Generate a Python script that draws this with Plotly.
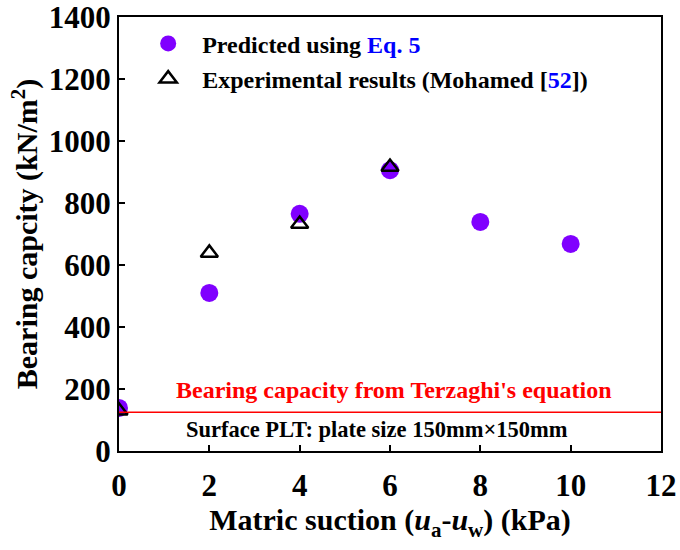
import plotly.graph_objects as go

# Matric suction (kPa)
suction_pred = [0, 2, 4, 6, 8, 10]
capacity_pred = [139, 510, 765, 906, 739, 668]

suction_exp = [0, 2, 4, 6]
capacity_exp = [130, 639, 732, 916]

# Terzaghi bearing capacity (kN/m2)
terzaghi = 125

x_ticks = [0, 2, 4, 6, 8, 10, 12]
y_ticks = [0, 200, 400, 600, 800, 1000, 1200, 1400]

FONT = "Liberation Serif, Times New Roman, serif"

fig = go.Figure()

fig.add_trace(go.Scatter(
    x=suction_pred, y=capacity_pred, mode="markers",
    name="Predicted using <span style='color:#0000ff'>Eq. 5</span>",
    legendgroup="a",
    marker=dict(symbol="circle", size=18, color="#8000ff", line=dict(width=0)),
))
fig.add_trace(go.Scatter(
    x=suction_exp, y=capacity_exp, mode="markers",
    name="Experimental results (Mohamed [<span style='color:#0000ff'>52</span>])",
    legendgroup="b",
    marker=dict(symbol="triangle-up-open", size=15, color="black",
                line=dict(width=2.5, color="black")),
))

fig.add_shape(type="line", xref="x", yref="y", x0=x_ticks[0], x1=x_ticks[-1],
              y0=terzaghi, y1=terzaghi, line=dict(color="red", width=1.5))

fig.add_annotation(x=0.507, xref="paper", y=197, yref="y",
                   xanchor="center", yanchor="middle",
                   text="Bearing capacity from Terzaghi's equation",
                   showarrow=False, font=dict(family=FONT, size=24, color="red", weight="bold"))
fig.add_annotation(x=0.476, xref="paper", y=68, yref="y",
                   text="Surface PLT: plate size 150mm×150mm",
                   showarrow=False, xanchor="center", yanchor="middle",
                   font=dict(family=FONT, size=22.5, color="black", weight="bold"))

axis_common = dict(
    showline=True, linecolor="black", linewidth=2, mirror=True,
    ticks="inside", ticklen=6, tickwidth=2, tickcolor="black",
    showgrid=False, zeroline=False, ticklabeloverflow="allow", automargin=False,
    tickfont=dict(family=FONT, size=31, color="black", weight="bold"),
)

fig.update_xaxes(range=[x_ticks[0], x_ticks[-1]], tickvals=x_ticks, **axis_common,
                 ticklabelstandoff=6,
                 title=dict(text="Matric suction (<i>u</i><sub>a</sub>-<i>u</i><sub>w</sub>) (kPa)",
                            font=dict(family=FONT, size=30, color="black", weight="bold"),
                            standoff=6))
fig.update_yaxes(range=[y_ticks[0], y_ticks[-1]], tickvals=y_ticks, **axis_common,
                 title=dict(text="Bearing capcity (kN/m<sup>2</sup>)",
                            font=dict(family=FONT, size=30, color="black", weight="bold"),
                            standoff=2))

fig.update_layout(
    width=680, height=550,
    margin=dict(l=119, r=19, t=17, b=99),
    paper_bgcolor="white", plot_bgcolor="white",
    showlegend=True,
    legend=dict(x=0.028, y=0.99, xanchor="left", yanchor="top", itemwidth=58,
                bgcolor="rgba(0,0,0,0)", traceorder="grouped", tracegroupgap=1,
                font=dict(family=FONT, size=24, color="black", weight="bold")),
)

fig.write_html("out.html")
